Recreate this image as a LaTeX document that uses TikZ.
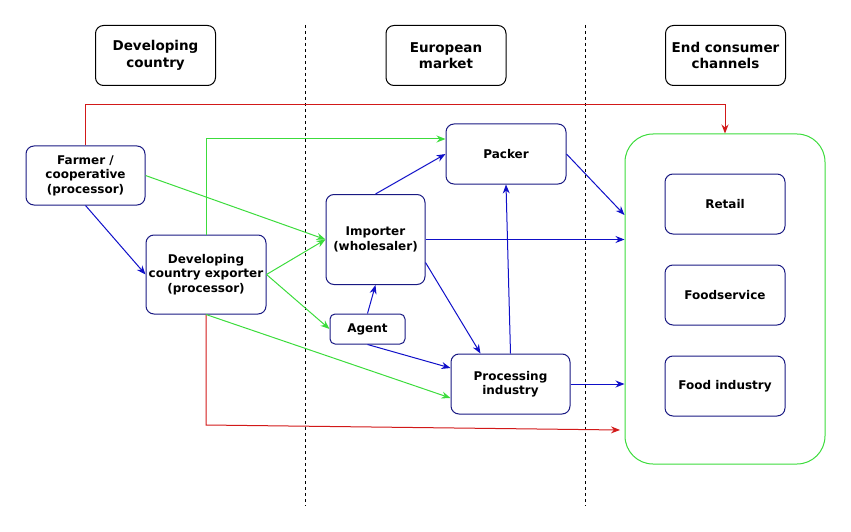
\documentclass[tikz,border=0pt]{standalone}
\usepackage{fontspec}
\setmainfont{DejaVu Sans}
\usetikzlibrary{positioning,arrows.meta}
\definecolor{boxblue}{RGB}{25,25,130}
\definecolor{flowblue}{RGB}{15,15,200}
\definecolor{flowgreen}{RGB}{60,220,60}
\definecolor{flowred}{RGB}{210,25,25}

\begin{document}
\begin{tikzpicture}[x=1pt, y=-1pt, >={Stealth[length=9pt,width=7pt]},
  box/.style={draw=boxblue, line width=1pt, rounded corners=8pt, align=center, inner sep=0pt, font=\bfseries\fontsize{12}{14.5}\selectfont},
  headbox/.style={draw, line width=1pt, rounded corners=8pt, align=center, inner sep=0pt, minimum width=120pt, minimum height=60pt, font=\bfseries\fontsize{13.5}{16.5}\selectfont},
  blueflow/.style={->, flowblue, line width=1pt},
  greenflow/.style={->, flowgreen, line width=1pt},
  redflow/.style={->, flowred, line width=1pt}]
\useasboundingbox (0,0) rectangle (851,532);

% column headers and separators
\node[headbox] (hdev) at (155.5,55.5) {Developing\\country};
\node[headbox] (heu) at (446,55.5) {European\\market};
\node[headbox] (hend) at (725.5,55.5) {End consumer\\channels};
\draw[dash pattern=on 3pt off 3pt, line width=0.8pt] (305,25) -- (305,506);
\draw[dash pattern=on 3pt off 3pt, line width=0.8pt] (585,25) -- (585,506);

% chain actors
\node[box, minimum width=119pt, minimum height=59pt] (farmer) at (85.5,175.5) {Farmer /\\cooperative\\(processor)};
\node[box, minimum width=120pt, minimum height=79pt] (exporter) at (206,274.5) {Developing\\country exporter\\(processor)};
\node[box, minimum width=99pt, minimum height=90pt] (importer) at (375.5,239.5) {Importer\\(wholesaler)};
\node[box, rounded corners=5pt, minimum width=75pt, minimum height=30pt] (agent) at (367.5,329) {Agent};
\node[box, minimum width=120pt, minimum height=60pt] (packer) at (506,154) {Packer};
\node[box, minimum width=119pt, minimum height=60pt] (processing) at (510.5,384) {Processing\\industry};

% end consumer channels
\node[draw=flowgreen, line width=1pt, rounded corners=28pt, minimum width=200pt, minimum height=330pt] (channels) at (725,299) {};
\node[box, minimum width=120pt, minimum height=60pt] (retail) at (725,204) {Retail};
\node[box, minimum width=120pt, minimum height=60pt, below=30pt of retail] (foodservice) {Foodservice};
\node[box, minimum width=120pt, minimum height=60pt, below=30pt of foodservice] (foodind) {Food industry};

\coordinate (topbend) at (85.5,105);
\coordinate (lowbend) at (206,425);
\coordinate (lowend) at (620,430);

\draw[redflow] (farmer.north) -- (topbend) -| (channels.north);
\draw[redflow] (exporter.south) -- (lowbend) -- (lowend);

\draw[greenflow] (exporter.north) |- ([yshift=15pt]packer.west);
\draw[greenflow] (farmer.east) -- (importer.west);
\draw[greenflow] (exporter.east) -- (importer.west);
\draw[greenflow] (exporter.east) -- (agent.west);
\draw[greenflow] (exporter.south) -- ([yshift=-14pt]processing.west);

\draw[blueflow] (farmer.south) -- (exporter.west);
\draw[blueflow] (importer.north) -- (packer.west);
\draw[blueflow] (importer.east) -- (importer.east -| channels.west);
\draw[blueflow] ([yshift=-23pt]importer.east) -- ([xshift=-30pt]processing.north);
\draw[blueflow] (agent.north) -- (importer.south);
\draw[blueflow] (agent.south) -- ([yshift=16pt]processing.west);
\draw[blueflow] (processing.north) -- (packer.south);
\draw[blueflow] (packer.east) -- ([yshift=84pt]channels.west);
\draw[blueflow] (processing.east) -- (processing.east -| channels.west);
\end{tikzpicture}
\end{document}
